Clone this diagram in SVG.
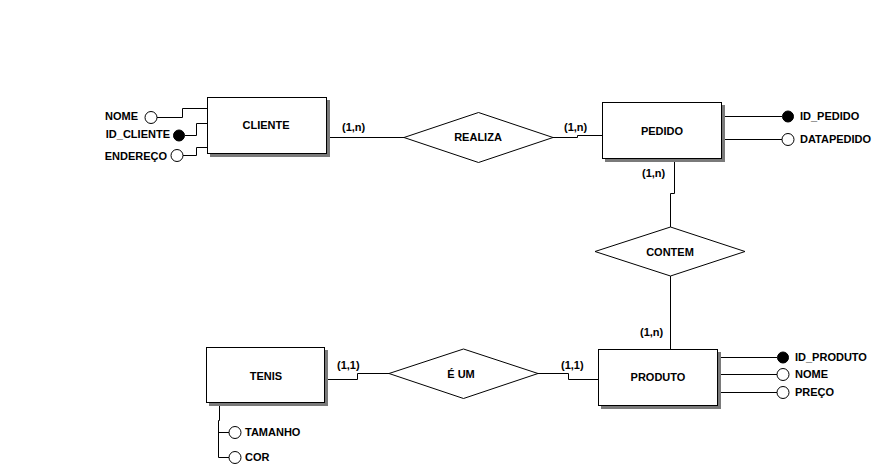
<svg xmlns="http://www.w3.org/2000/svg" width="882" height="470" viewBox="0 0 882 470">
<style>
text{font-family:"Liberation Sans",Arial,sans-serif;font-weight:bold;font-size:11px;fill:#000}
.c{text-anchor:middle}
.e{text-anchor:end}
.box{fill:#fff;stroke:#000;stroke-width:1}
.sh{fill:#7a7a7a}
.dia{fill:#fff;stroke:#000;stroke-width:1}
.ln{fill:none;stroke:#000;stroke-width:1}
.ao{fill:#fff;stroke:#000;stroke-width:1}
.ak{fill:#000;stroke:#000;stroke-width:1}
</style>
<rect width="882" height="470" fill="#fff"/>
<g id="connectors">
<path class="ln" d="M327,137.5 H404"/>
<path class="ln" d="M553,137.5 H577.5 V135.5 H602"/>
<path class="ln" d="M674.5,162 V193.5 H670.5 V227"/>
<path class="ln" d="M670.5,276 V349"/>
<path class="ln" d="M325,379.5 H357.5 V373.5 H389"/>
<path class="ln" d="M538,373.5 H568.5 V379.5 H598"/>
<path class="ln" d="M157,117.5 H182.5 V108.5 H207"/>
<path class="ln" d="M185,135.5 H196.5 V123.5 H207"/>
<path class="ln" d="M183,155.5 H196.5 V147.5 H207"/>
<path class="ln" d="M725,116.5 H782"/>
<path class="ln" d="M725,139.5 H782"/>
<path class="ln" d="M721,357.5 H777"/>
<path class="ln" d="M721,374.5 H777"/>
<path class="ln" d="M721,392.5 H777"/>
<path class="ln" d="M219.5,406 V420.5 H218.5 V457.5 H229"/>
<path class="ln" d="M218.5,432.5 H229"/>
</g>
<g id="cliente">
<rect class="sh" x="210" y="100" width="120" height="57"/>
<rect class="box" x="207.5" y="97.5" width="119" height="56"/>
<text class="c" x="266" y="129">CLIENTE</text>
</g>
<g id="pedido">
<rect class="sh" x="605" y="105" width="120" height="57"/>
<rect class="box" x="602.5" y="102.5" width="119" height="56"/>
<text class="c" x="662" y="135">PEDIDO</text>
</g>
<g id="tenis">
<rect class="sh" x="209" y="350" width="119" height="56"/>
<rect class="box" x="206.5" y="347.5" width="118" height="55"/>
<text class="c" x="266" y="380">TENIS</text>
</g>
<g id="produto">
<rect class="sh" x="601" y="352" width="120" height="57"/>
<rect class="box" x="598.5" y="349.5" width="119" height="56"/>
<text class="c" x="658" y="381">PRODUTO</text>
</g>
<g id="realiza">
<polygon class="dia" points="404,137.5 478.5,112.5 553,137.5 478.5,162.5"/>
<text class="c" x="478" y="141">REALIZA</text>
</g>
<g id="contem">
<polygon class="dia" points="595,251.5 670.5,227 745,251.5 670.5,276"/>
<text class="c" x="670" y="256">CONTEM</text>
</g>
<g id="eum">
<polygon class="dia" points="389,373.5 463.5,349 538,373.5 463.5,398.5"/>
<text class="c" x="461" y="378">É UM</text>
</g>
<g id="card">
<text x="342" y="131">(1,n)</text>
<text x="564" y="131">(1,n)</text>
<text x="642" y="177">(1,n)</text>
<text x="640" y="336">(1,n)</text>
<text x="337" y="369">(1,1)</text>
<text x="561" y="369">(1,1)</text>
</g>
<g id="attr-nome-cliente">
<circle class="ao" cx="151" cy="117.5" r="6"/>
<text class="e" x="138" y="120">NOME</text>
</g>
<g id="attr-id-cliente">
<circle class="ak" cx="179" cy="135.5" r="5.5"/>
<text class="e" x="170" y="138">ID_CLIENTE</text>
</g>
<g id="attr-endereco">
<circle class="ao" cx="177" cy="155.5" r="6"/>
<text class="e" x="167" y="160">ENDEREÇO</text>
</g>
<g id="attr-id-pedido">
<circle class="ak" cx="788" cy="116.5" r="5.5"/>
<text x="800" y="120">ID_PEDIDO</text>
</g>
<g id="attr-datapedido">
<circle class="ao" cx="788" cy="139.5" r="6"/>
<text x="800" y="143">DATAPEDIDO</text>
</g>
<g id="attr-id-produto">
<circle class="ak" cx="783" cy="357.5" r="5.5"/>
<text x="795" y="361">ID_PRODUTO</text>
</g>
<g id="attr-nome-produto">
<circle class="ao" cx="783" cy="374.5" r="6"/>
<text x="795" y="378">NOME</text>
</g>
<g id="attr-preco">
<circle class="ao" cx="783" cy="392.5" r="6"/>
<text x="795" y="396">PREÇO</text>
</g>
<g id="attr-tamanho">
<circle class="ao" cx="235" cy="432.5" r="6"/>
<text x="245" y="436">TAMANHO</text>
</g>
<g id="attr-cor">
<circle class="ao" cx="235" cy="457.5" r="6"/>
<text x="245" y="461">COR</text>
</g>
</svg>
